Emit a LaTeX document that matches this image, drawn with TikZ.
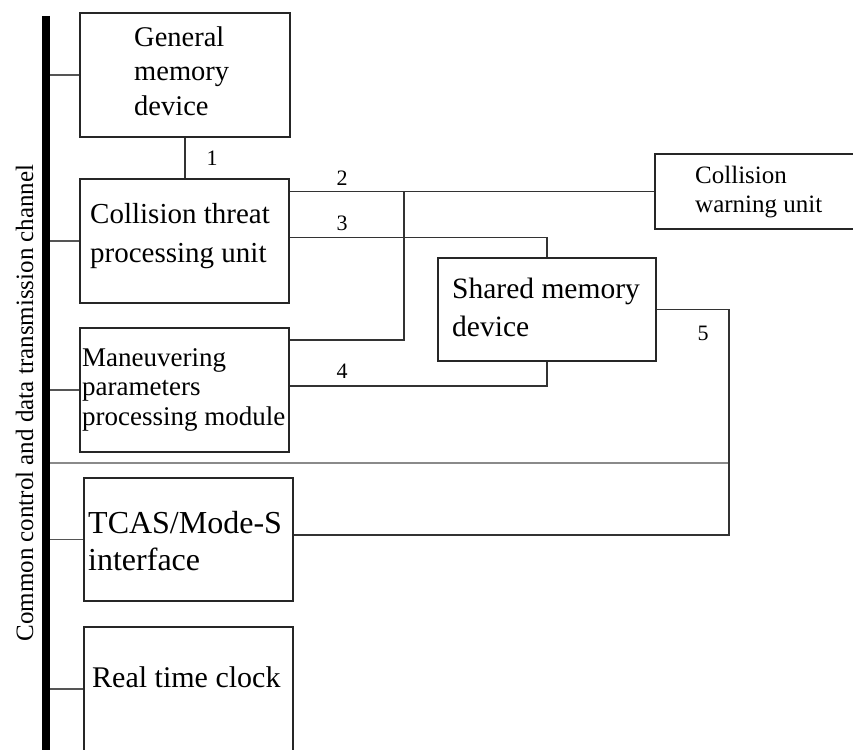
\documentclass[tikz,border=0pt]{standalone}
\usepackage{fontspec}
\setmainfont{Liberation Serif}
\usetikzlibrary{calc}
\definecolor{linec}{HTML}{333333}
\definecolor{boxc}{HTML}{262626}
\definecolor{stubc}{HTML}{555555}
\definecolor{sepc}{HTML}{8A8A8A}
\begin{document}
\begin{tikzpicture}[x=1pt,y=-1pt,
  box/.style={draw=boxc, line width=1.6pt, rectangle, inner sep=0pt, anchor=north west},
  conn/.style={draw=linec, line width=1.5pt},
  stub/.style={draw=stubc, line width=1.6pt},
  sepline/.style={draw=sepc, line width=2.5pt},
  lbl/.style={inner sep=0pt, anchor=base west, align=left},
  num/.style={inner sep=0pt, anchor=base, font=\fontsize{22}{26}\selectfont}]
\useasboundingbox (0,0) rectangle (853,749);

% reference coordinates
\coordinate (bus) at (46,0);
\coordinate (busTop) at (46,16);
\coordinate (busEnd) at (46,760);
\coordinate (split) at (404,0);
\coordinate (r5) at (729,0);
\coordinate (sep) at (0,463);

% blocks
\node[box, minimum width=210pt, minimum height=124pt] (gm) at (79,12) {};
\node[box, minimum width=209pt, minimum height=124pt] (ct) at (79,178) {};
\node[box, minimum width=209pt, minimum height=124pt] (mp) at (79,327) {};
\node[box, minimum width=218pt, minimum height=103pt] (sm) at (437,257) {};
\node[box, minimum width=230pt, minimum height=75pt] (cw) at (654,153) {};
\node[box, minimum width=209pt, minimum height=123pt] (tc) at (83,477) {};
\node[box, minimum width=209pt, minimum height=124pt] (rt) at (83,626) {};

% block captions (placed by the baseline of their last line)
\node[lbl, font=\fontsize{28.5}{34}\selectfont] (gmText) at (134,115) {General\\memory\\device};
\node[lbl, font=\fontsize{29}{39}\selectfont] (ctText) at (90,262) {Collision threat\\processing unit};
\node[lbl, font=\fontsize{27}{29.5}\selectfont] (mpText) at (82,425) {Maneuvering\\parameters\\processing module};
\node[lbl, font=\fontsize{29.5}{38.5}\selectfont] (smText) at (452,336.5) {Shared memory\\device};
\node[lbl, font=\fontsize{25}{29}\selectfont] (cwText) at (695,212) {Collision\\warning unit};
\node[lbl, font=\fontsize{32}{37}\selectfont] (tcText) at (88,570) {TCAS/Mode-S\\interface};
\node[lbl, font=\fontsize{30}{36}\selectfont] (rtText) at (92,687) {Real time clock};
\node[rotate=90, anchor=base, inner sep=0pt, font=\fontsize{25}{30}\selectfont] (busText) at (33,403) {Common control and data transmission channel};

% bus stubs
\draw[stub] (bus |- gm.west) -- (gm.west);
\draw[stub] (bus |- ct.west) -- (ct.west);
\draw[stub] (bus |- mp.west) -- (mp.west);
\draw[stub] (bus |- tc.west) -- (tc.west);
\draw[stub] (bus |- rt.west) -- (rt.west);
\draw[sepline] (bus |- sep) -- (r5 |- sep);

% data links
\draw[conn] (gm.south) -- (gm.south |- ct.north);
\draw[conn] (cw.west -| ct.east) -- (cw.west);
\draw[conn] (split |- cw.west) |- ([yshift=-13pt]mp.north east);
\draw[conn] ([yshift=3.5pt]ct.east) -| (sm.north);
\draw[conn] ([yshift=4pt]mp.east) -| (sm.south);
\draw[conn] ([yshift=4.5pt]tc.east) -| (r5 |- sm.east) -- (sm.east);

% link numbers
\node[num] (n1) at (212,165) {1};
\node[num] (n2) at (342,185) {2};
\node[num] (n3) at (342,230) {3};
\node[num] (n4) at (342,378) {4};
\node[num] (n5) at (703,340) {5};

% common channel
\draw[line width=7.5pt, black] (busTop) -- (busEnd);
\end{tikzpicture}
\end{document}
